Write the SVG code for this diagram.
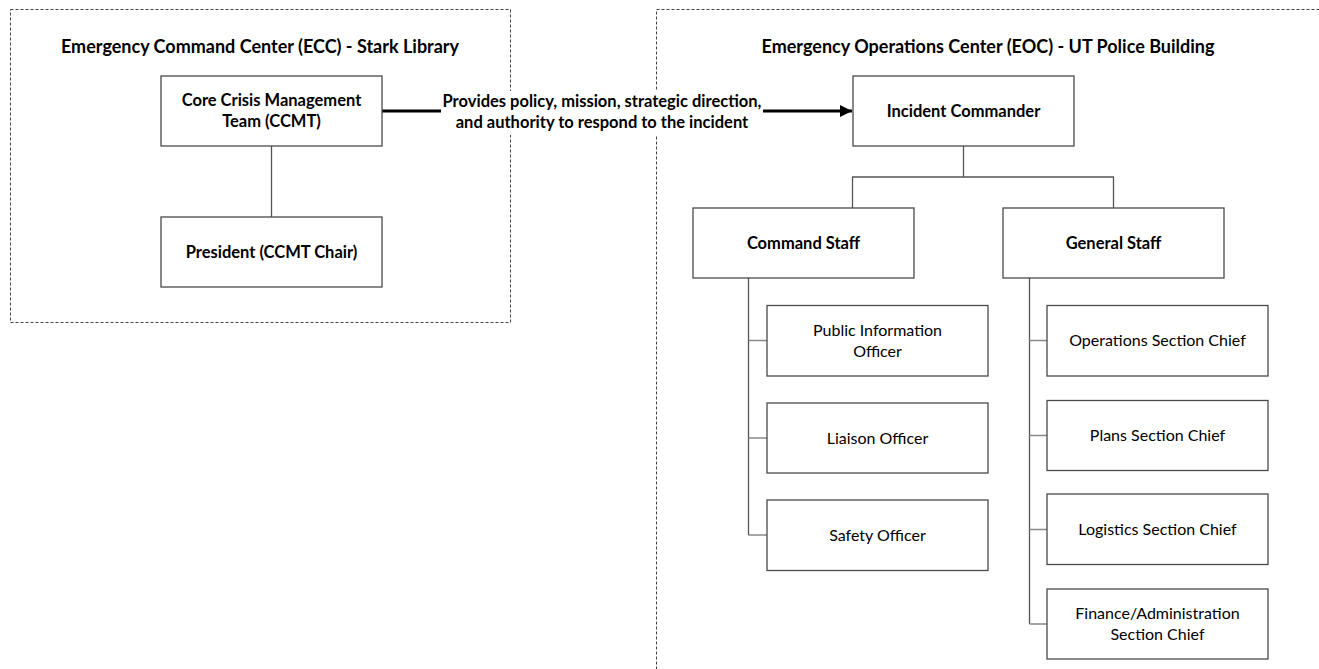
<svg xmlns="http://www.w3.org/2000/svg" width="1319" height="669" viewBox="0 0 1319 669">
<style>
.bg{fill:#ffffff}
.area{fill:none;stroke:#444;stroke-width:1;stroke-dasharray:3 2}
.box{fill:#fff;stroke:#4a4a4a;stroke-width:1.3}
.t{font-family:Lato,"Liberation Sans",sans-serif;font-size:16px;fill:#000;text-anchor:middle}
.b{font-weight:bold;font-size:16.5px}
.title{font-family:Lato,"Liberation Sans",sans-serif;font-size:18px;font-weight:bold;fill:#000;text-anchor:middle}
.c{fill:none;stroke:#555;stroke-width:1.3}
.cg{fill:none;stroke:#888;stroke-width:1.5}
.arrow{fill:none;stroke:#000;stroke-width:3}
</style>
<defs>
<marker id="ah" markerWidth="12" markerHeight="12" refX="10" refY="5" orient="auto" markerUnits="userSpaceOnUse" viewBox="0 0 10 10">
<path d="M0,0 L10,5 L0,10 Z" fill="#000"/>
</marker>
</defs>
<rect class="bg" x="0" y="0" width="1319" height="669"/>
<g id="areas">
<rect class="area" x="10.5" y="9.5" width="500" height="313"/>
<rect class="area" x="656.5" y="9.5" width="700" height="700"/>
<text class="title" x="260" y="53">Emergency Command Center (ECC) - Stark Library</text>
<text class="title" x="988" y="53">Emergency Operations Center (EOC) - UT Police Building</text>
</g>
<g id="connectors">
<line class="c" x1="271.5" y1="146" x2="271.5" y2="217"/>
<line class="arrow" x1="382" y1="111" x2="441" y2="111"/>
<line class="arrow" x1="763" y1="111" x2="852" y2="111" marker-end="url(#ah)"/>
<rect x="441" y="91" width="322" height="44" fill="#fff"/>
<text class="t b" x="602" y="107">Provides policy, mission, strategic direction,</text>
<text class="t b" x="602" y="128">and authority to respond to the incident</text>
<polyline class="c" points="963.5,146 963.5,177"/>
<polyline class="c" points="852.5,208 852.5,177 1113.5,177 1113.5,208"/>
<line class="c" x1="748.5" y1="278" x2="748.5" y2="535"/>
<line class="cg" x1="748.5" y1="340.5" x2="767" y2="340.5"/>
<line class="cg" x1="748.5" y1="438" x2="767" y2="438"/>
<line class="cg" x1="748.5" y1="535" x2="767" y2="535"/>
<line class="c" x1="1029.5" y1="278" x2="1029.5" y2="624"/>
<line class="cg" x1="1029.5" y1="340.5" x2="1047" y2="340.5"/>
<line class="cg" x1="1029.5" y1="435.5" x2="1047" y2="435.5"/>
<line class="cg" x1="1029.5" y1="529.5" x2="1047" y2="529.5"/>
<line class="cg" x1="1029.5" y1="624" x2="1047" y2="624"/>
</g>
<g id="ccmt">
<rect class="box" x="161" y="76" width="221" height="70"/>
<text class="t b" x="271.5" y="106">Core Crisis Management</text>
<text class="t b" x="271.5" y="127">Team (CCMT)</text>
</g>
<g id="president">
<rect class="box" x="161" y="217" width="221" height="70"/>
<text class="t b" x="271.5" y="258">President (CCMT Chair)</text>
</g>
<g id="incident-commander">
<rect class="box" x="853" y="76" width="221" height="70"/>
<text class="t b" x="963.5" y="117">Incident Commander</text>
</g>
<g id="command-staff">
<rect class="box" x="693" y="208" width="221" height="70"/>
<text class="t b" x="803.5" y="249">Command Staff</text>
</g>
<g id="general-staff">
<rect class="box" x="1003" y="208" width="221" height="70"/>
<text class="t b" x="1113.5" y="249">General Staff</text>
</g>
<g id="pio">
<rect class="box" x="767" y="305.5" width="221" height="70.5"/>
<text class="t" x="877.5" y="336">Public Information</text>
<text class="t" x="877.5" y="357">Officer</text>
</g>
<g id="liaison">
<rect class="box" x="767" y="403" width="221" height="70"/>
<text class="t" x="877.5" y="444">Liaison Officer</text>
</g>
<g id="safety">
<rect class="box" x="767" y="500" width="221" height="70.5"/>
<text class="t" x="877.5" y="541">Safety Officer</text>
</g>
<g id="operations">
<rect class="box" x="1047" y="305.5" width="221" height="70.5"/>
<text class="t" x="1157.5" y="346">Operations Section Chief</text>
</g>
<g id="plans">
<rect class="box" x="1047" y="400.5" width="221" height="70"/>
<text class="t" x="1157.5" y="441">Plans Section Chief</text>
</g>
<g id="logistics">
<rect class="box" x="1047" y="494" width="221" height="70.5"/>
<text class="t" x="1157.5" y="535">Logistics Section Chief</text>
</g>
<g id="finance">
<rect class="box" x="1047" y="589" width="221" height="70"/>
<text class="t" x="1157.5" y="619">Finance/Administration</text>
<text class="t" x="1157.5" y="640">Section Chief</text>
</g>
</svg>
